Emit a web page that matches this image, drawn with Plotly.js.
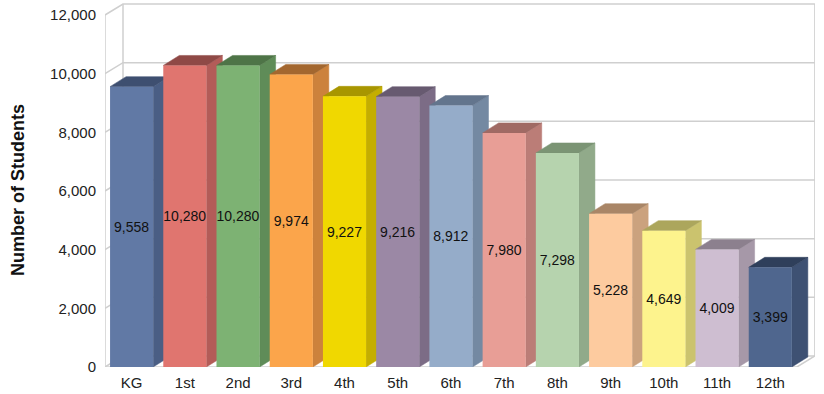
<!DOCTYPE html>
<html>
<head>
<meta charset="utf-8">
<script src="https://cdn.plot.ly/plotly-3.0.1.min.js"></script>
<style>
  html, body { margin: 0; padding: 0; background: #ffffff; }
  #chart { width: 824px; height: 394px; }
</style>
</head>
<body>
<div id="chart"></div>
<script>
// ---- data ----
const categories = ['KG', '1st', '2nd', '3rd', '4th', '5th', '6th', '7th', '8th', '9th', '10th', '11th', '12th'];
const students = [9558, 10280, 10280, 9974, 9227, 9216, 8912, 7980, 7298, 5228, 4649, 4009, 3399];
const yTickVals = [0, 2000, 4000, 6000, 8000, 10000, 12000];

// ---- styles ----
const frontColors = ['#6179a5', '#e0756f', '#7db273', '#fba54b', '#f0d800', '#9b88a5', '#95acc9', '#e89e96', '#b6d3ae', '#fdcb9f', '#fdf38d', '#cebed1', '#4f668e'];
const sideColors  = ['#4a5e84', '#b35c58', '#5f8c58', '#cc823c', '#c4ae00', '#7c6c86', '#7489a2', '#bb7d77', '#91aa8a', '#cba27e', '#cbc36e', '#a698a8', '#3e5173'];
const topColors   = ['#3e4f70', '#8f4946', '#4e7447', '#a3672f', '#a89600', '#675a70', '#63758d', '#a06a64', '#7b9474', '#a98667', '#aca65c', '#8c808e', '#2f3f5b'];

const W = 824, H = 394;
const M = { l: 105, r: 9, t: 3, b: 27 };
const plotW = W - M.l - M.r;          // 710
const plotH = H - M.t - M.b;          // 364
const pxPerUnitY = 352 / 12000;
const yMax = plotH / pxPerUnitY;
const xMin = -0.5, xMax = 12.84;
const pxPerCat = plotW / (xMax - xMin);

const px2x = p => p / pxPerCat;
const px2y = p => p / pxPerUnitY;

const wallDX = px2x(18), wallDY = px2y(11);
const barDX = px2x(16), barDY = px2y(10);
const barW = 0.81;

const xs = categories.map((c, i) => i);
const fmt = v => v.toLocaleString('en-US');

const traces = [];

// ---- walls / gridlines ----
const gx = [], gy = [];
const frontRight = categories.length - 0.5;
const backLeft = xMin + wallDX;
const backRight = frontRight + wallDX;
yTickVals.forEach(v => {
  gx.push(xMin, backLeft, backRight, null);
  gy.push(v, v + wallDY, v + wallDY, null);
});
gx.push(xMin, xMin, null); gy.push(0, 12000, null);
gx.push(backLeft, backLeft, null); gy.push(wallDY, 12000 + wallDY, null);
gx.push(backRight, backRight, null); gy.push(wallDY, 12000 + wallDY, null);
gx.push(xMin, frontRight, backRight, null); gy.push(0, 0, wallDY, null);

traces.push({
  type: 'scatter', mode: 'lines', x: gx, y: gy,
  line: { color: '#cfcfcf', width: 1.5 },
  hoverinfo: 'skip', showlegend: false, xaxis: 'x', yaxis: 'y'
});

// ---- 3D side and top faces (left to right) ----
students.forEach((v, i) => {
  const x0 = xs[i] - barW / 2, x1 = xs[i] + barW / 2;
  traces.push({
    type: 'scatter', mode: 'lines', fill: 'toself',
    x: [x1, x1, x1 + barDX, x1 + barDX, x1],
    y: [0, v, v + barDY, barDY, 0],
    fillcolor: sideColors[i], line: { color: sideColors[i], width: 0.5 },
    hoverinfo: 'skip', showlegend: false, xaxis: 'x', yaxis: 'y'
  });
  traces.push({
    type: 'scatter', mode: 'lines', fill: 'toself',
    x: [x0, x1, x1 + barDX, x0 + barDX, x0],
    y: [v, v, v + barDY, v + barDY, v],
    fillcolor: topColors[i], line: { color: topColors[i], width: 0.5 },
    hoverinfo: 'skip', showlegend: false, xaxis: 'x', yaxis: 'y'
  });
});

// ---- front faces: real bars on overlay axes (drawn on top) ----
traces.push({
  type: 'bar', x: xs, y: students, width: barW,
  marker: { color: frontColors, line: { width: 0 } },
  text: students.map(fmt), textposition: 'inside', insidetextanchor: 'middle',
  constraintext: 'none', textangle: 0,
  textfont: { family: 'Liberation Sans, Arial, sans-serif', size: 14, color: '#111111' },
  hoverinfo: 'skip', showlegend: false, xaxis: 'x2', yaxis: 'y2'
});

const tickFont = { family: 'Liberation Sans, Arial, sans-serif', size: 15, color: '#222222' };

const layout = {
  width: W, height: H,
  margin: M,
  paper_bgcolor: '#ffffff', plot_bgcolor: 'rgba(0,0,0,0)',
  showlegend: false,
  xaxis: {
    range: [xMin, xMax], tickvals: xs, ticktext: categories,
    showgrid: false, zeroline: false, showline: false, ticks: '',
    tickfont: tickFont, ticklabelstandoff: 5, fixedrange: true
  },
  yaxis: {
    range: [0, yMax], tickvals: yTickVals, ticktext: yTickVals.map(fmt),
    showgrid: false, zeroline: false, showline: false, ticks: '',
    tickfont: tickFont, ticklabelstandoff: 8, fixedrange: true
  },
  xaxis2: { overlaying: 'x', range: [xMin, xMax], visible: false, fixedrange: true },
  yaxis2: { overlaying: 'y', range: [0, yMax], visible: false, fixedrange: true },
  annotations: [{
    text: '<b>Number of Students</b>', textangle: -90,
    xref: 'paper', yref: 'paper',
    x: (18 - M.l) / plotW, y: (H - M.b - 190) / plotH,
    xanchor: 'center', yanchor: 'middle', showarrow: false,
    font: { family: 'Liberation Sans, Arial, sans-serif', size: 18, color: '#111111' }
  }]
};

Plotly.newPlot('chart', traces, layout, { displayModeBar: false, staticPlot: true });
</script>
</body>
</html>
